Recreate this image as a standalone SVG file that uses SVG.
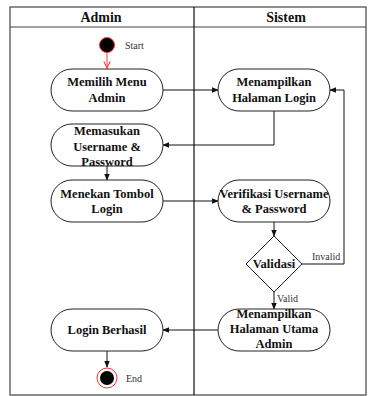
<svg xmlns="http://www.w3.org/2000/svg" width="369" height="396" viewBox="0 0 369 396">
<style>
.frame{fill:none;stroke:#444;stroke-width:1.2}
.node{fill:#fff;stroke:#222;stroke-width:1}
.t{font-family:"Liberation Serif",serif;font-weight:bold;font-size:12.5px;fill:#111;text-anchor:middle}
.h{font-family:"Liberation Serif",serif;font-weight:bold;font-size:14px;fill:#111;text-anchor:middle}
.s{font-family:"Liberation Serif",serif;font-size:10px;fill:#333}
.c{fill:none;stroke:#111;stroke-width:1}
</style>
<defs>
<marker id="a" viewBox="0 0 10 10" refX="9" refY="5" markerWidth="7" markerHeight="7" orient="auto" markerUnits="userSpaceOnUse"><path d="M0,1 L10,5 L0,9 Z" fill="#111"/></marker>
<marker id="r" viewBox="0 0 10 10" refX="9" refY="5" markerWidth="8" markerHeight="8" orient="auto" markerUnits="userSpaceOnUse"><path d="M1,1 L9,5 L1,9" fill="none" stroke="#f33" stroke-width="1.3"/></marker>
</defs>
<rect width="369" height="396" fill="#fff"/>
<g id="lanes">
<rect class="frame" x="10" y="7" width="356" height="388"/>
<line class="frame" x1="10" y1="27" x2="366" y2="27"/>
<line x1="194" y1="7" x2="194" y2="395" stroke="#111" stroke-width="1.2"/>
<text class="h" x="101" y="22">Admin</text>
<text class="h" x="286" y="22">Sistem</text>
</g>
<g id="connectors">
<line x1="107" y1="53" x2="107" y2="68" stroke="#f33" stroke-width="1" marker-end="url(#r)"/>
<line class="c" x1="163" y1="90" x2="218" y2="90" marker-end="url(#a)"/>
<polyline class="c" points="274,111 274,145 163,145" marker-end="url(#a)"/>
<line class="c" x1="107" y1="166" x2="107" y2="180" marker-end="url(#a)"/>
<line class="c" x1="163" y1="201" x2="218" y2="201" marker-end="url(#a)"/>
<line class="c" x1="274" y1="222" x2="274" y2="236" marker-end="url(#a)"/>
<polyline class="c" points="302,264 344,264 344,90 330,90" marker-end="url(#a)"/>
<text class="s" x="312" y="260">Invalid</text>
<line class="c" x1="274" y1="292" x2="274" y2="309" marker-end="url(#a)"/>
<text class="s" x="277" y="302">Valid</text>
<line class="c" x1="218" y1="330" x2="163" y2="330" marker-end="url(#a)"/>
<line class="c" x1="107" y1="351" x2="107" y2="367" marker-end="url(#a)"/>
</g>
<g id="start">
<circle cx="107" cy="45" r="7.5" fill="#000" stroke="#f33" stroke-width="1"/>
<text class="s" x="125" y="49">Start</text>
</g>
<g id="n1">
<rect class="node" x="51" y="69" width="112" height="42" rx="21"/>
<text class="t" x="107" y="86">Memilih Menu</text>
<text class="t" x="107" y="102">Admin</text>
</g>
<g id="n2">
<rect class="node" x="218" y="69" width="112" height="42" rx="21"/>
<text class="t" x="274" y="86">Menampilkan</text>
<text class="t" x="274" y="102">Halaman Login</text>
</g>
<g id="n3">
<rect class="node" x="51" y="124" width="112" height="42" rx="21"/>
<text class="t" x="107" y="135">Memasukan</text>
<text class="t" x="107" y="151">Username &amp;</text>
<text class="t" x="107" y="166">Password</text>
</g>
<g id="n4">
<rect class="node" x="51" y="180" width="112" height="42" rx="21"/>
<text class="t" x="107" y="198">Menekan Tombol</text>
<text class="t" x="107" y="213">Login</text>
</g>
<g id="n5">
<rect class="node" x="218" y="180" width="112" height="42" rx="21"/>
<text class="t" x="274" y="198">Verifikasi Username</text>
<text class="t" x="274" y="213">&amp; Password</text>
</g>
<g id="decision">
<polygon class="node" points="274,236 302,264 274,292 246,264"/>
<text class="t" x="274" y="268">Validasi</text>
</g>
<g id="n6">
<rect class="node" x="218" y="309" width="112" height="42" rx="21"/>
<text class="t" x="274" y="318">Menampilkan</text>
<text class="t" x="274" y="333">Halaman Utama</text>
<text class="t" x="274" y="348">Admin</text>
</g>
<g id="n7">
<rect class="node" x="51" y="309" width="112" height="42" rx="21"/>
<text class="t" x="107" y="334">Login Berhasil</text>
</g>
<g id="end">
<circle cx="107" cy="378" r="10" fill="#fff" stroke="#f33" stroke-width="1"/>
<circle cx="107" cy="378" r="7" fill="#000"/>
<text class="s" x="126" y="382">End</text>
</g>
</svg>
